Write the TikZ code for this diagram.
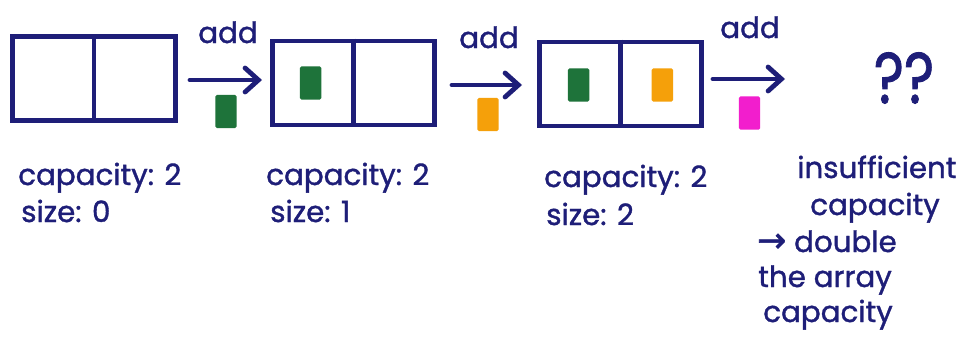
\documentclass[tikz,border=0pt]{standalone}
\usepackage{fontspec}
\setmainfont{Poppins}[FakeBold=1.2]
\newfontfamily\arrowfont{DejaVu Sans}[FakeBold=1.5]
\usetikzlibrary{arrows.meta,calc}
\definecolor{ink}{HTML}{1E1E78}
\definecolor{itemgreen}{HTML}{1E733A}
\definecolor{itemorange}{HTML}{F5A00A}
\definecolor{itempink}{HTML}{F21ECD}
\tikzset{
  array/.style={draw=ink, line width=3.6pt, minimum width=122pt, minimum height=63pt, inner sep=0pt},
  item/.style={rounded corners=1.2pt, minimum width=16pt, minimum height=25pt, inner sep=0pt},
  arr/.style={draw=ink, line width=3.6pt, -{Straight Barb[length=10pt,width=18pt,line cap=round]}, line cap=round},
  hand/.style={text=ink, font=\fontsize{22}{26}\selectfont, inner sep=0pt, anchor=base west},
}
\begin{document}
\begin{tikzpicture}[x=0.75pt,y=-0.75pt]
\useasboundingbox[fill=white] (0,0) rectangle (963,344);

% the three arrays of capacity 2
\node[array] (b1) at (94,78.5) {};
\node[array] (b2) at (353.5,83) {};
\node[array] (b3) at (620.5,84) {};
\foreach \b in {b1,b2,b3} \draw[ink, line width=3.6pt] (\b.north) -- (\b.south);

% stored elements
\node[item, fill=itemgreen] (g2) at ($(b2.center)!0.5!(b2.west)+(-1,0)$) {};
\node[item, fill=itemgreen] (g3) at ($(b3.center)!0.5!(b3.west)+(0,1)$) {};
\node[item, fill=itemorange] (o3) at ($(b3.center)!0.5!(b3.east)+(0,1)$) {};

% add operations
\coordinate (a1s) at (190,80);  \coordinate (a1e) at (262,80);
\coordinate (a2s) at (452,85);  \coordinate (a2e) at (522,85);
\coordinate (a3s) at (713,79);  \coordinate (a3e) at (785,79);
\draw[arr] (a1s) -- (a1e);
\draw[arr] (a2s) -- (a2e);
\draw[arr] (a3s) -- (a3e);
\node[hand] (t1) at (198,43) {add};
\node[hand] (t2) at (459,48) {add};
\node[hand] (t3) at (720,38) {add};
\node[item, fill=itemgreen] (n1) at (226,111.5) {};
\node[item, fill=itemorange] (n2) at (488,114.5) {};
\node[item, fill=itempink] (n3) at (749.5,113) {};

\node[hand, anchor=center, font=\fontsize{54}{58}\selectfont, xscale=0.8] (q) at (904,78) {??};

% state of each array
\node[hand] (c1) at (18,185) {capacity: 2};
\node[hand] (z1) at (21,222) {size: 0};
\node[hand] (c2) at (266,185) {capacity: 2};
\node[hand] (z2) at (270,222) {size: 1};
\node[hand] (c3) at (544,187) {capacity: 2};
\node[hand] (z3) at (546,225) {size: 2};

% why the next add cannot fit
\node[hand] (r1) at (797,178) {insufficient};
\node[hand] (r2) at (810,215) {capacity};
\node[hand] (r3) at (757,252) {{\arrowfont\fontsize{26}{26}\selectfont →} double};
\node[hand] (r4) at (758,287) {the array};
\node[hand] (r5) at (763,322) {capacity};
\end{tikzpicture}
\end{document}
